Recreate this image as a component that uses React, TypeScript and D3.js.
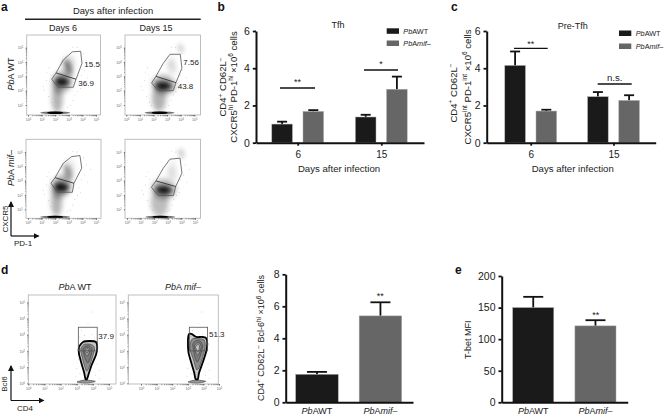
import React, { useEffect, useRef } from 'react';
import * as d3 from 'd3';

// bar values
const days = ['6', '15'];
const groups = ['PbAWT', 'PbAmif-'];
const tfhMeans = [[1.0, 1.68], [1.38, 2.87]];
const tfhTops = [[1.13, 1.75], [1.5, 3.55]];
const preMeans = [[4.15, 1.7], [2.47, 2.27]];
const preTops = [[4.9, 1.77], [2.72, 2.55]];
const bcl6Means = [1.75, 5.4];
const bcl6Tops = [1.9, 6.25];
const tbetMeans = [150, 121];
const tbetTops = [167, 130];
const groupColors = ['#1a1a1a', '#666666'];

// flow plots: everything in decades (log10) as [x, y]
type Pt = [number, number];
const gateA1: Pt[] = [[3.26, 4.71], [3.87, 4.75], [3.97, 3.91], [3.53, 2.8], [3.33, 2.24], [2.23, 2.24], [1.74, 2.8], [2.06, 3.24], [2.6, 4.15]];
const gateA2: Pt[] = [[3.21, 4.54], [3.97, 4.54], [4.09, 3.57], [3.65, 2.56], [3.45, 2.0], [2.35, 2.0], [1.86, 2.54], [2.18, 3.0], [2.72, 3.91]];
const gateA3: Pt[] = [[3.21, 4.68], [3.82, 4.75], [3.95, 3.87], [3.38, 2.82], [3.26, 2.19], [2.16, 2.19], [1.69, 2.82], [1.99, 3.21], [2.6, 4.22]];
const gateA4: Pt[] = [[3.16, 4.5], [3.9, 4.57], [4.04, 3.52], [3.58, 2.59], [3.41, 1.96], [2.3, 1.96], [1.79, 2.54], [2.13, 2.98], [2.67, 3.87]];
const splitA1: Pt[] = [[2.06, 3.24], [3.53, 2.8]];
const splitA2: Pt[] = [[2.18, 3.0], [3.65, 2.56]];
const splitA3: Pt[] = [[1.99, 3.21], [3.38, 2.82]];
const splitA4: Pt[] = [[2.13, 2.98], [3.58, 2.59]];

// density lobes: centre x, centre y, spread x, spread y, tilt, weight
type Lobe = [number, number, number, number, number, number];
const lobesA1: Lobe[] = [
  [2.15, 1.45, 0.4, 1.0, 0, 0.3], [2.5, 2.6, 0.72, 0.85, -25, 0.28], [2.5, 2.62, 0.55, 0.33, -8, 0.82],
  [2.48, 2.6, 0.28, 0.16, 0, 0.7], [2.95, 3.65, 0.27, 0.58, 22, 0.52], [3.1, 4.05, 0.38, 0.5, 20, 0.1],
];
const lobesA2: Lobe[] = [
  [2.4, 1.45, 0.52, 0.9, 0, 0.3], [2.75, 2.4, 0.85, 0.7, -10, 0.3], [2.72, 2.34, 0.62, 0.28, -5, 0.88],
  [2.72, 2.32, 0.3, 0.14, 0, 0.75], [3.35, 3.65, 0.34, 0.5, 15, 0.12], [4.0, 4.95, 0.16, 0.3, 20, 0.25],
  [3.3, 4.1, 0.3, 0.4, 0, 0.05],
];
const lobesA3: Lobe[] = [
  [2.1, 1.5, 0.4, 1.0, 0, 0.3], [2.45, 2.6, 0.72, 0.85, -25, 0.3], [2.45, 2.55, 0.55, 0.33, -8, 0.85],
  [2.45, 2.55, 0.28, 0.16, 0, 0.72], [2.95, 3.6, 0.27, 0.55, 22, 0.42], [3.1, 4.05, 0.38, 0.5, 20, 0.08],
];
const lobesA4: Lobe[] = [
  [2.4, 1.45, 0.65, 0.95, 0, 0.26], [2.7, 2.4, 0.9, 0.72, -10, 0.28], [2.7, 2.36, 0.62, 0.28, -5, 0.88],
  [2.7, 2.34, 0.3, 0.14, 0, 0.75], [3.3, 3.5, 0.36, 0.5, 15, 0.12], [4.0, 4.9, 0.16, 0.32, 20, 0.27],
  [3.4, 4.1, 0.3, 0.4, 0, 0.05],
];
const bandA: Lobe[] = [[2.0, 0.46, 1.1, 0.09, 0, 0.55], [2.0, 0.46, 0.6, 0.09, 0, 1]];
const bandB: Lobe[] = [[2.45, 0.46, 1.1, 0.09, 0, 0.55], [2.45, 0.46, 0.6, 0.09, 0, 1]];

const strayA: Pt[] = [
  [1.1, 2.3], [1.35, 2.7], [1.2, 2.05], [1.5, 1.6], [1.65, 3.1], [1.7, 1.2], [3.3, 1.3], [3.45, 1.7], [3.1, 0.95],
  [3.75, 2.5], [3.95, 3.05], [4.15, 3.4], [4.3, 4.1], [4.1, 4.6], [3.6, 5.0], [4.4, 2.9], [3.65, 1.95], [1.55, 3.6],
  [2.9, 0.85], [1.85, 0.95], [4.6, 3.8], [3.3, 5.05], [1.4, 3.3], [3.85, 2.15],
];
const strayD: Pt[] = [
  [3.3, 3.25], [3.7, 3.7], [3.9, 4.4], [3.5, 2.95], [3.95, 3.0], [4.1, 2.8], [3.15, 2.85], [4.3, 1.2], [4.4, 0.8],
  [3.2, 0.6], [3.0, 0.9], [4.15, 0.5], [2.95, 0.4], [4.4, 0.3], [3.1, 1.5],
];

const contoursD1: Pt[][] = [
  [[3.14, 2.24], [3.39, 2.55], [3.82, 2.61], [4.19, 2.55], [4.27, 2.18], [4.19, 1.75], [3.95, 1.19], [3.76, 0.64], [3.64, 0.27], [3.54, 0.27], [3.45, 0.7], [3.27, 1.31], [3.14, 1.81]],
  [[3.25, 2.1], [3.45, 2.4], [3.8, 2.42], [4.05, 2.3], [4.1, 2.05], [3.95, 1.55], [3.78, 1.0], [3.62, 0.75], [3.5, 1.05], [3.35, 1.55]],
  [[3.38, 2.1], [3.55, 2.3], [3.8, 2.3], [3.95, 2.1], [3.85, 1.6], [3.68, 1.25], [3.5, 1.6]],
  [[3.45, 2.08], [3.6, 2.22], [3.78, 2.18], [3.82, 2.0], [3.7, 1.7], [3.55, 1.75]],
  [[3.52, 2.05], [3.62, 2.16], [3.72, 2.1], [3.7, 1.92], [3.6, 1.88]],
  [[3.58, 2.05], [3.63, 2.1], [3.67, 2.05], [3.63, 1.98]],
];
const contoursD2: Pt[][] = [
  [[3.01, 2.67], [3.08, 3.04], [3.27, 3.04], [3.53, 2.86], [3.91, 2.86], [4.17, 2.8], [4.25, 2.43], [4.17, 1.93], [3.97, 1.31], [3.72, 0.64], [3.65, 0.27], [3.49, 0.27], [3.4, 0.7], [3.21, 1.31], [3.04, 1.93]],
  [[3.15, 2.45], [3.3, 2.75], [3.7, 2.75], [4.05, 2.68], [4.12, 2.3], [3.95, 1.6], [3.72, 0.95], [3.55, 0.85], [3.35, 1.5], [3.15, 2.05]],
  [[3.32, 2.4], [3.5, 2.62], [3.8, 2.6], [3.95, 2.3], [3.8, 1.7], [3.6, 1.3], [3.42, 1.75]],
  [[3.42, 2.3], [3.6, 2.5], [3.8, 2.45], [3.85, 2.2], [3.7, 1.75], [3.55, 1.8]],
  [[3.5, 2.25], [3.65, 2.4], [3.75, 2.3], [3.7, 2.0], [3.58, 2.0]],
];
const debrisD: Pt[] = [[3.02, 0.08], [3.5, 0.2], [4.15, 0.12], [3.6, 0.0]];
const gateD: [number, number, number, number] = [3.1, 2.0, 4.27, 3.46];

const contourFills = ['#c8c8c8', '#8c8c8c', '#7c7c7c', '#999999', '#c4c4c4', '#eeeeee'];
const font = '"Liberation Sans", Arial, sans-serif';

function Axis({ make, after, fontSize, ...rest }: { make: () => d3.Axis<any>; after?: (g: any) => void; fontSize?: number; [k: string]: any }) {
  const ref = useRef<SVGGElement>(null);
  useEffect(() => {
    const g = d3.select(ref.current as SVGGElement);
    g.call(make());
    // d3's axis writes its own font attributes on the group
    g.attr('font-family', font);
    if (fontSize) g.attr('font-size', fontSize);
    if (after) after(g);
  });
  return <g ref={ref} {...rest} />;
}

const decade = (d: number) => Math.pow(10, d);

function FlowPlot(props: any) {
  const { id, frame, xRange, yRange, yFloor, lobes, band, stray, gate, split, rect, contours, debris, labels } = props;
  const [l, t, r, b] = frame;
  const x = d3.scaleLog().domain([1, 1e5]).range(xRange);
  const y = d3.scaleLog().domain([yFloor, 1e5]).range(yRange);
  const px = (p: Pt) => x(decade(p[0]));
  const py = (p: Pt) => y(decade(p[1]));
  const closed = d3.line<Pt>().x(px).y(py).curve(d3.curveLinearClosed);
  const open = d3.line<Pt>().x(px).y(py);
  const smooth = d3.line<Pt>().x(px).y(py).curve(d3.curveCardinalClosed.tension(0.4));
  const superscripts = (g: any) => {
    g.selectAll('.tick text').text('10').attr('fill', '#666')
      .append('tspan').attr('dy', -1).attr('font-size', 2.6).text((d: number) => Math.round(Math.log10(d)));
    g.select('.domain').remove();
    g.selectAll('.tick line').attr('stroke', '#555').attr('stroke-width', 0.6);
  };
  const minor = (g: any) => {
    g.selectAll('text').remove();
    g.select('.domain').remove();
    g.selectAll('.tick line').attr('stroke', '#444').attr('stroke-width', 0.5);
  };
  const lobe = (d: Lobe, i: number) => {
    const cx = x(decade(d[0])), cy = y(decade(d[1]));
    const rx = x(decade(d[0] + d[2])) - cx, ry = cy - y(decade(d[1] + d[3]));
    return <ellipse key={i} cx={cx} cy={cy} rx={rx} ry={ry} fill="#000" opacity={d[5]} transform={`rotate(${-d[4]} ${cx} ${cy})`} />;
  };
  return (
    <g>
      <clipPath id={id}><rect x={l} y={t} width={r - l} height={b - t} /></clipPath>
      <g clipPath={`url(#${id})`}>
        {lobes && <g filter="url(#soft)">{lobes.map(lobe)}</g>}
        {band && <g filter="url(#tight)">{band.map(lobe)}</g>}
        {stray && stray.map((p: Pt, i: number) => <circle key={i} cx={px(p)} cy={py(p)} r={0.4} fill="#999" />)}
        {debris && <path d={smooth(debris) as string} fill="#999" stroke="#555" strokeWidth={0.8} />}
        {contours && contours.map((c: Pt[], i: number) => (
          <path key={i} d={smooth(c) as string} fill={contourFills[i]} stroke={i === 0 ? '#000' : '#444'} strokeWidth={i === 0 ? 1.8 : 0.7} />
        ))}
      </g>
      <rect x={l} y={t} width={r - l} height={b - t} fill="none" stroke="#b8b8b8" strokeWidth={0.9} />
      <Axis transform={`translate(0,${b})`} make={() => d3.axisBottom(x).tickValues(x.ticks()).tickFormat(() => '').tickSize(1.2)} after={minor} />
      <Axis transform={`translate(${l},0)`} make={() => d3.axisLeft(y).tickValues(y.ticks()).tickFormat(() => '').tickSize(0.8)} after={minor} />
      <Axis transform={`translate(0,${b})`} fontSize={3.6}
        make={() => d3.axisBottom(x).tickValues([1, 1e1, 1e2, 1e3, 1e4, 1e5]).tickSize(1.6).tickPadding(1.8)} after={superscripts} />
      <Axis transform={`translate(${l},0)`} fontSize={3.6}
        make={() => d3.axisLeft(y).tickValues(yFloor === 1 ? [1, 1e1, 1e2, 1e3, 1e4, 1e5] : [1e1, 1e2, 1e3, 1e4, 1e5]).tickSize(1.2).tickPadding(2.2)} after={superscripts} />
      {gate && <path d={closed(gate) as string} fill="none" stroke="#555" strokeWidth={0.8} />}
      {split && <path d={open(split) as string} fill="none" stroke="#333" strokeWidth={0.9} />}
      {rect && (
        <rect x={x(decade(rect[0]))} y={y(decade(rect[3]))} width={x(decade(rect[2])) - x(decade(rect[0]))}
          height={y(decade(rect[1])) - y(decade(rect[3]))} fill="none" stroke="#555" strokeWidth={0.8} />
      )}
      {labels.map((d: any, i: number) => (
        <text key={i} x={d[0]} y={d[1]} fontSize={8} fill="#222">{d[2]}</text>
      ))}
    </g>
  );
}

const Pb = () => <tspan fontStyle="italic">Pb</tspan>;
const GroupName = ({ name }: { name: string }) =>
  name === 'PbAWT'
    ? <><Pb />AWT</>
    : <><Pb />A<tspan fontStyle="italic">mif–</tspan></>;

const Sup = ({ children, size = 6.4 }: { children: any; size?: number }) => <tspan dy={-3.4} fontSize={size}>{children}</tspan>;
const Back = ({ children }: { children: any }) => <tspan dy={3.4}>{children}</tspan>;

function BarAxes({ y, baseX, tickValues, xEnd, xTicks, fontSize = 10.5 }: any) {
  const styleAxis = (g: any) => {
    g.select('.domain').attr('stroke', '#111').attr('stroke-width', 2);
    g.selectAll('.tick line').attr('stroke', '#111').attr('stroke-width', 1.8);
    g.selectAll('text').attr('fill', '#222');
  };
  const xLine = d3.scaleLinear().domain([0, 1]).range([baseX, xEnd]);
  return (
    <g>
      <Axis transform={`translate(0,${y(0)})`} make={() => d3.axisBottom(xLine).tickValues([]).tickSizeOuter(0)} after={styleAxis} />
      {xTicks && (
        <Axis transform={`translate(0,${y(0)})`} fontSize={10}
          make={() => d3.axisBottom(xTicks).tickSize(3).tickPadding(5).tickSizeOuter(0)}
          after={(g: any) => { styleAxis(g); g.select('.domain').remove(); }} />
      )}
      <Axis transform={`translate(${baseX},0)`} fontSize={fontSize}
        make={() => d3.axisLeft(y).tickValues(tickValues).tickFormat(d3.format('d')).tickSize(3.2).tickPadding(3).tickSizeOuter(0)} after={styleAxis} />
    </g>
  );
}

function ErrorBar({ cx, from, to, cap }: { cx: number; from: number; to: number; cap: number }) {
  return (
    <g stroke="#111" strokeWidth={1.8}>
      <line x1={cx} x2={cx} y1={from} y2={to} />
      <line x1={cx - cap / 2} x2={cx + cap / 2} y1={to} y2={to} />
    </g>
  );
}

function GroupedBars({ y, means, tops, xRange, baseX, xEnd, domainMax }: any) {
  const outer = d3.scalePoint<string>().domain(days).range(xRange);
  const inner = d3.scaleBand<number>().domain([0, 1]).range([-25.9, 25.9]).paddingInner(0.34);
  return (
    <g>
      {days.map((day, i) => (
        <g key={day}>
          {means[i].map((v: number, j: number) => {
            const left = (outer(day) as number) + (inner(j) as number);
            return (
              <g key={j}>
                <ErrorBar cx={left + inner.bandwidth() / 2} from={y(v)} to={y(tops[i][j])} cap={10} />
                <rect x={left} y={y(v)} width={inner.bandwidth()} height={y(0) - y(v)} fill={groupColors[j]} stroke="#aaa" strokeWidth={0.5} />
              </g>
            );
          })}
        </g>
      ))}
      <BarAxes y={y} baseX={baseX} xEnd={xEnd} tickValues={d3.range(0, domainMax + 1, 2)} xTicks={outer} />
    </g>
  );
}

function SingleBars({ y, means, tops, range, padding, baseX, xEnd, tickValues, cap, labelY }: any) {
  const x = d3.scaleBand<string>().domain(groups).range(range).paddingInner(padding);
  return (
    <g>
      {groups.map((g, i) => {
        const left = x(g) as number;
        return (
          <g key={g}>
            <ErrorBar cx={left + x.bandwidth() / 2} from={y(means[i])} to={y(tops[i])} cap={cap} />
            <rect x={left} y={y(means[i])} width={x.bandwidth()} height={y(0) - y(means[i])} fill={groupColors[i]} stroke="#aaa" strokeWidth={0.5} />
            <text x={left + x.bandwidth() / 2} y={labelY} textAnchor="middle" fontSize={9} fill="#222"><GroupName name={g} /></text>
          </g>
        );
      })}
      <BarAxes y={y} baseX={baseX} xEnd={xEnd} tickValues={tickValues} />
    </g>
  );
}

function Legend({ x, textX, ys }: { x: number; textX: number; ys: number[] }) {
  return (
    <g>
      {groups.map((g, i) => (
        <g key={g}>
          <rect x={x} y={ys[i] - 5} width={12.3} height={5.5} fill={groupColors[i]} />
          <text x={textX} y={ys[i] + 0.6} fontSize={7.3} fill="#222"><GroupName name={g} /></text>
        </g>
      ))}
    </g>
  );
}

const Rotated = ({ x, y, size = 9.6, children }: any) => (
  <text transform={`translate(${x},${y}) rotate(-90)`} textAnchor="middle" fontSize={size} fill="#222">{children}</text>
);

function Sig({ x1, x2, y, label, labelY, size = 9 }: any) {
  return (
    <g>
      <line x1={x1} x2={x2} y1={y} y2={y} stroke="#111" strokeWidth={1.3} />
      <text x={(x1 + x2) / 2} y={labelY} textAnchor="middle" fontSize={size} fill="#222">{label}</text>
    </g>
  );
}

export default function App() {
  const yB = d3.scaleLinear().domain([0, 6]).range([142.7, 31]);
  const yD = d3.scaleLinear().domain([0, 8]).range([402.3, 274.3]);
  const yE = d3.scaleLinear().domain([0, 200]).range([402.3, 276]);

  return (
    <svg width={667} height={415} style={{ position: 'absolute', left: 0, top: 0, background: '#fff' }} fontFamily={font}>
      <defs>
        <filter id="soft" x="-30%" y="-30%" width="160%" height="160%"><feGaussianBlur stdDeviation={2.4} /></filter>
        <filter id="tight" x="-30%" y="-300%" width="160%" height="700%"><feGaussianBlur stdDeviation={0.6} /></filter>
        <marker id="tip" viewBox="0 0 6 6" refX={5} refY={3} markerWidth={5} markerHeight={5} orient="auto">
          <path d="M0,0L6,3L0,6Z" fill="#111" />
        </marker>
      </defs>

      {/* panel letters */}
      <g fontWeight="bold" fontSize={12} fill="#111">
        <text x={1} y={11}>a</text>
        <text x={217.5} y={11}>b</text>
        <text x={451} y={11}>c</text>
        <text x={1} y={274}>d</text>
        <text x={455} y={274}>e</text>
      </g>

      {/* a */}
      <text x={113} y={14} textAnchor="middle" fontSize={9.4} fill="#222">Days after infection</text>
      <line x1={25} x2={200.7} y1={19.3} y2={19.3} stroke="#222" strokeWidth={1.4} />
      <text x={63} y={31} textAnchor="middle" fontSize={9} fill="#222">Days 6</text>
      <text x={156} y={31} textAnchor="middle" fontSize={9} fill="#222">Days 15</text>
      <Rotated x={13.5} y={74} size={9}><Pb />A WT</Rotated>
      <Rotated x={13.5} y={168} size={9}><Pb />A <tspan fontStyle="italic">mif–</tspan></Rotated>

      <FlowPlot id="a1" frame={[26.7, 35, 100.5, 115]} xRange={[28, 96]} yRange={[105, 47.7]} yFloor={10}
        lobes={lobesA1} band={bandA} stray={strayA} gate={gateA1} split={splitA1}
        labels={[[84.3, 66.7, '15.5'], [78.3, 86, '36.9']]} />
      <FlowPlot id="a2" frame={[125, 35, 200.5, 115]} xRange={[126.3, 194.3]} yRange={[105, 47.7]} yFloor={10}
        lobes={lobesA2} band={bandB} stray={strayA} gate={gateA2} split={splitA2}
        labels={[[183.3, 65, '7.56'], [177.7, 89.3, '43.8']]} />
      <FlowPlot id="a3" frame={[26, 139.3, 101, 218.3]} xRange={[28, 96]} yRange={[209.3, 152]} yFloor={10}
        lobes={lobesA3} band={bandA} stray={strayA} gate={gateA3} split={splitA3} labels={[]} />
      <FlowPlot id="a4" frame={[125, 139.3, 200.5, 218.3]} xRange={[127, 195]} yRange={[209.3, 152]} yFloor={10}
        lobes={lobesA4} band={bandB} stray={strayA} gate={gateA4} split={splitA4} labels={[]} />

      <path d="M11,236V202" stroke="#111" strokeWidth={1.2} markerEnd="url(#tip)" />
      <path d="M11,236H38.5" stroke="#111" strokeWidth={1.2} markerEnd="url(#tip)" />
      <Rotated x={7.5} y={219} size={8}>CXCR5</Rotated>
      <text x={14} y={245.7} fontSize={8} fill="#222">PD-1</text>

      {/* b */}
      <text x={338} y={27.7} textAnchor="middle" fontSize={9} fill="#222">Tfh</text>
      <Legend x={386.7} textX={403.3} ys={[33.3, 45.5]} />
      <GroupedBars y={yB} means={tfhMeans} tops={tfhTops} xRange={[297.7, 381.3]} baseX={256} xEnd={424} domainMax={6} />
      <Sig x1={280} x2={315} y={88} label="**" labelY={85} />
      <Sig x1={364} x2={398} y={70} label="*" labelY={67} />
      <Rotated x={226} y={87}>CD4<Sup>+</Sup><Back> CD62L</Back><Sup>−</Sup></Rotated>
      <Rotated x={236.5} y={87}>CXCR5<Sup>hi</Sup><Back> PD-1</Back><Sup>hi</Sup><Back> ×10</Back><Sup>6</Sup><Back> cells</Back></Rotated>
      <text x={339} y={171.7} textAnchor="middle" fontSize={9.6} fill="#222">Days after infection</text>

      {/* c */}
      <text x={572.7} y={29} textAnchor="middle" fontSize={9} fill="#222">Pre-Tfh</text>
      <Legend x={619} textX={635.7} ys={[35.5, 48.5]} />
      <GroupedBars y={yB} means={preMeans} tops={preTops} xRange={[530.7, 613.5]} baseX={486.7} xEnd={655.7} domainMax={6} />
      <Sig x1={514} x2={547.7} y={48.3} label="**" labelY={47} />
      <Sig x1={597.7} x2={631.7} y={84} label="n.s." labelY={81} size={9.6} />
      <Rotated x={456.7} y={93}>CD4<Sup>+</Sup><Back> CD62L</Back><Sup>−</Sup></Rotated>
      <Rotated x={470.5} y={87}>CXCR5<Sup>int</Sup><Back> PD-1</Back><Sup>int</Sup><Back> ×10</Back><Sup>6</Sup><Back> cells</Back></Rotated>
      <text x={572.7} y={171.7} textAnchor="middle" fontSize={9.6} fill="#222">Days after infection</text>

      {/* d */}
      <text x={75} y={290} textAnchor="middle" fontSize={9} fill="#222"><Pb />A WT</text>
      <text x={183} y={290} textAnchor="middle" fontSize={9} fill="#222"><Pb />A <tspan fontStyle="italic">mif–</tspan></text>
      <FlowPlot id="d1" frame={[28.3, 295, 116, 384]} xRange={[28.3, 109]} yRange={[383.3, 302.3]} yFloor={1}
        stray={strayD} contours={contoursD1} debris={debrisD} rect={gateD}
        labels={[[98.3, 339.3, '37.9']]} />
      <FlowPlot id="d2" frame={[128.3, 295, 218.3, 384]} xRange={[141, 219]} yRange={[383.3, 302.3]} yFloor={1}
        stray={strayD} contours={contoursD2} debris={debrisD} rect={gateD}
        labels={[[209, 336.7, '51.3']]} />
      <path d="M11,400.5V366" stroke="#111" strokeWidth={1.2} markerEnd="url(#tip)" />
      <path d="M11,400.5H43.5" stroke="#111" strokeWidth={1.2} markerEnd="url(#tip)" />
      <Rotated x={6.5} y={384} size={8}>Bcl6</Rotated>
      <text x={17} y={411} fontSize={8} fill="#222">CD4</text>

      <SingleBars y={yD} means={bcl6Means} tops={bcl6Tops} range={[295.7, 401.7]} padding={0.33} baseX={285.7} xEnd={413}
        tickValues={[0, 2, 4, 6, 8]} cap={20} labelY={414} />
      <Rotated x={264.3} y={338} size={9}>CD4<Sup>+</Sup><Back> CD62L</Back><Sup>−</Sup><Back> Bcl-6</Back><Sup>hi</Sup><Back> ×10</Back><Sup>6</Sup><Back> cells</Back></Rotated>
      <text x={380.3} y={299} textAnchor="middle" fontSize={9} fill="#222">**</text>

      {/* e */}
      <SingleBars y={yE} means={tbetMeans} tops={tbetTops} range={[512.7, 616]} padding={0.34} baseX={501.7} xEnd={627.7}
        tickValues={[0, 50, 100, 150, 200]} cap={20} labelY={414} />
      <Rotated x={471} y={339.7} size={9}>T-bet MFI</Rotated>
      <text x={595.7} y={318} textAnchor="middle" fontSize={9} fill="#222">**</text>
    </svg>
  );
}
